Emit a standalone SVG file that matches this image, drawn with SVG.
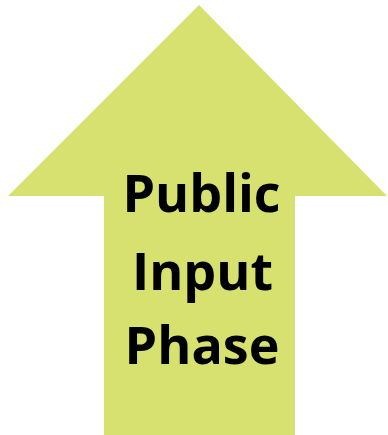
<svg xmlns="http://www.w3.org/2000/svg" width="388" height="435" viewBox="0 0 388 435">
  <style>
    .arrow { fill: #d7e16f; stroke: none; }
    .label { font-family: "Open Sans", "Liberation Sans", sans-serif; font-weight: 700; font-size: 52px; fill: #000; text-anchor: middle; }
  </style>
  <g id="arrow-node">
    <polygon class="arrow" points="199,5 387,196 295,196 295,435 104,435 104,196 8,196"/>
    <text class="label" x="201.5" y="211.5">Public</text>
    <text class="label" x="202.5" y="289.5">Input</text>
    <text class="label" x="202" y="363.5">Phase</text>
  </g>
  <g id="connectors"></g>
</svg>
